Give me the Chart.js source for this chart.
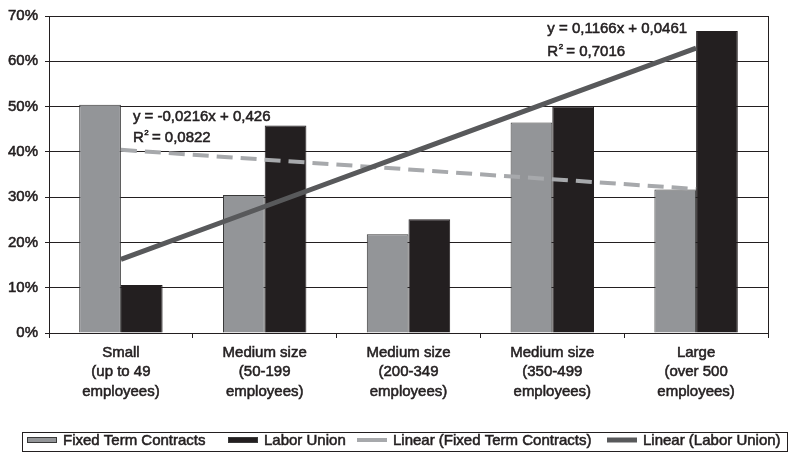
<!DOCTYPE html>
<html>
<head>
<meta charset="utf-8">
<script src="https://cdn.jsdelivr.net/npm/chart.js@4"></script>
<style>
  html, body { margin: 0; padding: 0; background: #fff; }
  #wrap { width: 790px; height: 453px; position: relative; }
</style>
</head>
<body>
<div id="wrap"><canvas id="chart"></canvas></div>
<script>
// Fixed term contracts vs labor union by company size

const categories = [
  ['Small', '(up to 49', 'employees)'],
  ['Medium size', '(50-199', 'employees)'],
  ['Medium size', '(200-349', 'employees)'],
  ['Medium size', '(350-499', 'employees)'],
  ['Large', '(over 500', 'employees)']
];
const fixedTerm = [50.4, 30.5, 21.8, 46.5, 31.7];
const laborUnion = [10.6, 45.8, 25.1, 50.0, 66.7];
// linear trend values read at each category
const fixedTrend = [40.44, 38.28, 36.12, 33.96, 31.80];
const laborTrend = [16.27, 27.93, 39.59, 51.25, 62.91];
const yMin = 0;
const yMax = 70;
const yStep = 10;
const seriesNames = ['Fixed Term Contracts', 'Labor Union', 'Linear (Fixed Term Contracts)', 'Linear (Labor Union)'];
const fixedEq = ['y = -0,0216x + 0,426', '0,0822'];
const laborEq = ['y = 0,1166x + 0,0461', '0,7016'];

const INK = '#231f20';
const GRAY = '#939598';
const FONT = '"Liberation Sans", Arial, sans-serif';
const STROKE = 0.55; // heavier text like the print

function text(ctx, s, x, y) {
  ctx.strokeText(s, x, y);
  ctx.fillText(s, x, y);
}

function drawR2(ctx, x, y, val) {
  ctx.font = '15px ' + FONT;
  text(ctx, 'R', x, y);
  const wR = ctx.measureText('R').width;
  ctx.font = '8px ' + FONT;
  text(ctx, '2', x + wR + 0.5, y - 7);
  ctx.font = '15px ' + FONT;
  text(ctx, ' = ' + val, x + wR + 4, y);
}

// equation labels, frame and legend
const extras = {
  id: 'extras',
  beforeDatasetsDraw(chart) {
    const { ctx, chartArea: a } = chart;
    ctx.save();
    ctx.strokeStyle = INK;
    ctx.lineWidth = 1;
    ctx.beginPath();
    ctx.moveTo(Math.round(a.right) + 0.5, a.top);
    ctx.lineTo(Math.round(a.right) + 0.5, a.bottom);
    ctx.stroke();
    ctx.restore();
  },
  afterDatasetsDraw(chart) {
    const { ctx } = chart;
    const xs = chart.scales.x, ys = chart.scales.y;
    ctx.save();
    ctx.fillStyle = INK;
    ctx.strokeStyle = INK;
    ctx.lineWidth = STROKE;
    ctx.textBaseline = 'alphabetic';
    ctx.textAlign = 'left';

    let x = xs.getPixelForValue(0) + 12;
    ctx.font = '15px ' + FONT;
    text(ctx, fixedEq[0], x, ys.getPixelForValue(46.9));
    drawR2(ctx, x, ys.getPixelForValue(42.1), fixedEq[1]);

    x = xs.getPixelForValue(3) - 5;
    ctx.font = '15px ' + FONT;
    text(ctx, laborEq[0], x, ys.getPixelForValue(66.3));
    drawR2(ctx, x, ys.getPixelForValue(61.2), laborEq[1]);
    ctx.restore();
  },
  afterDraw(chart) {
    const { ctx } = chart;
    ctx.save();
    ctx.strokeStyle = INK;
    ctx.lineWidth = 1;
    ctx.strokeRect(22.5, 432.5, 765, 19);

    const cy = 440;
    const starts = [27, 228, 357, 607];
    ctx.font = '15px ' + FONT;
    ctx.textBaseline = 'middle';
    starts.forEach((sx, i) => {
      if (i < 2) {
        ctx.fillStyle = i === 0 ? GRAY : INK;
        ctx.fillRect(sx, cy - 3, 30, 6);
        ctx.strokeStyle = '#3a3a3a';
        ctx.lineWidth = 1;
        ctx.strokeRect(sx + 0.5, cy - 2.5, 29, 5);
      } else {
        ctx.strokeStyle = i === 2 ? '#a7a9ac' : '#58595b';
        ctx.lineWidth = i === 2 ? 4 : 5;
        ctx.beginPath();
        ctx.moveTo(sx, cy);
        ctx.lineTo(sx + 30, cy);
        ctx.stroke();
      }
      ctx.fillStyle = INK;
      ctx.strokeStyle = INK;
      ctx.lineWidth = STROKE;
      text(ctx, seriesNames[i], sx + 36, cy + 1);
    });
    ctx.restore();
  }
};

new Chart(document.getElementById('chart'), {
  type: 'bar',
  data: {
    labels: categories,
    datasets: [
      { label: seriesNames[0], data: fixedTerm, backgroundColor: GRAY, borderColor: '#3a3a3a', borderWidth: 1, order: 2 },
      { label: seriesNames[1], data: laborUnion, backgroundColor: INK, borderColor: INK, borderWidth: 1, order: 2 },
      { type: 'line', label: seriesNames[2], data: fixedTrend, borderColor: '#a7a9ac', borderWidth: 4,
        borderDash: [16, 8], pointRadius: 0, fill: false, order: 1 },
      { type: 'line', label: seriesNames[3], data: laborTrend, borderColor: '#58595b', borderWidth: 5,
        pointRadius: 0, fill: false, order: 0 }
    ]
  },
  options: {
    responsive: true,
    maintainAspectRatio: false,
    animation: false,
    layout: { padding: { left: 0, top: 15, right: 22, bottom: 0 } },
    datasets: { bar: { categoryPercentage: 0.58, barPercentage: 1 } },
    plugins: {
      legend: { display: false },
      tooltip: { enabled: false }
    },
    scales: {
      x: {
        grid: { drawOnChartArea: false, drawTicks: true, tickLength: 5, color: INK, offset: true },
        border: { display: true, color: INK, width: 1 },
        ticks: { color: INK, font: { family: FONT, size: 15, lineHeight: 1.3 }, padding: 5,
          textStrokeColor: INK, textStrokeWidth: STROKE, maxRotation: 0, autoSkip: false },
        afterFit(s) { s.height = 120; }
      },
      y: {
        min: yMin, max: yMax,
        grid: { color: INK, lineWidth: 1, tickLength: 4 },
        border: { display: true, color: INK, width: 1 },
        ticks: { stepSize: yStep, color: INK, font: { family: FONT, size: 15 }, padding: 7,
          textStrokeColor: INK, textStrokeWidth: STROKE, callback: v => v + '%' },
        afterFit(s) { s.width = 49; }
      }
    }
  },
  plugins: [extras]
});
</script>
</body>
</html>
